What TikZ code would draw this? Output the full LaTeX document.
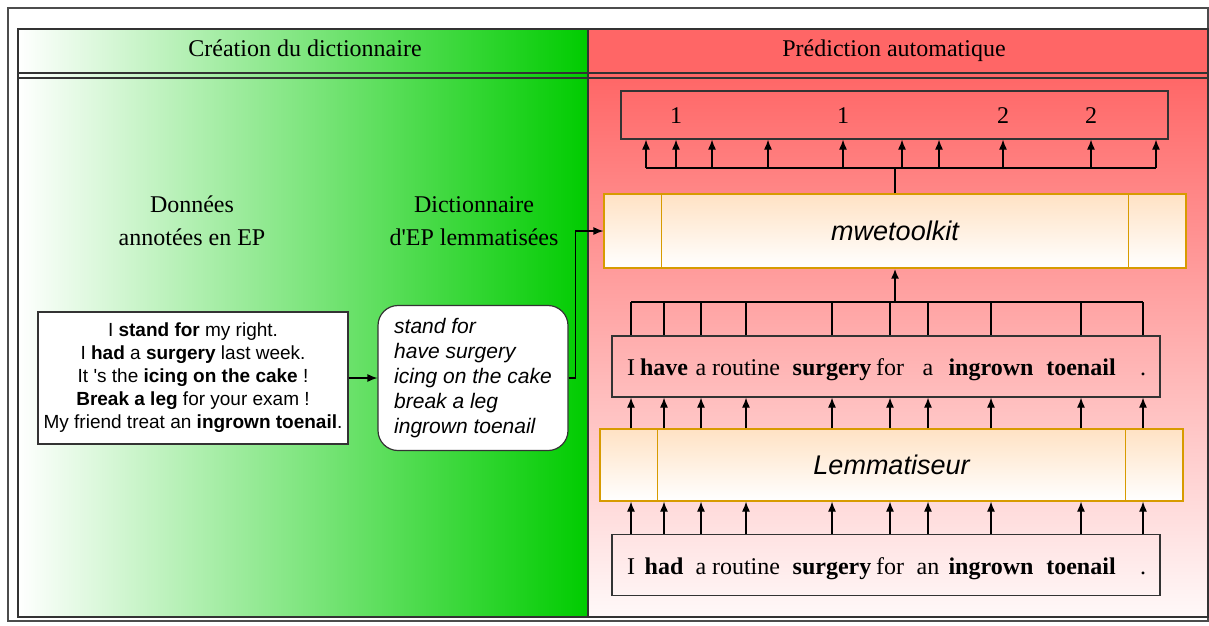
\documentclass[tikz,border=0pt]{standalone}
\usepackage{fontspec}
\setmainfont{Liberation Serif}
\setsansfont{Liberation Sans}
\usepackage{tikz}
\usetikzlibrary{positioning}
\usetikzlibrary{arrows.meta}
\tikzset{>={Latex[length=10pt,width=8pt]}}
\definecolor{vert}{HTML}{00CC00}
\definecolor{rouge}{HTML}{FF6666}
\definecolor{orangefill}{HTML}{FFE2C4}
\definecolor{orangedraw}{HTML}{D79B00}
\definecolor{trait}{HTML}{333333}
\newcommand{\fsz}[2]{\fontsize{#1}{#2}\selectfont}

\begin{document}
\begin{tikzpicture}[x=1pt, y=-1pt, line width=1.2pt,
    boite/.style={draw=trait, minimum width=548pt, minimum height=61pt},
    outil/.style={draw=orangedraw, top color=orangefill, bottom color=white, minimum width=582pt, minimum height=74pt, font=\sffamily\itshape\fsz{27}{32}},
    mot/.style={font=\fsz{24}{28}, inner sep=0pt, anchor=base}]
    \useasboundingbox (0,0) rectangle (1209,625);
    \draw[black!70] (8,8) rectangle (1208,621);
    \shade[left color=white, right color=vert] (18,29) rectangle (588,617);
    \fill[rouge] (588,29) rectangle (1208,73);
    \shade[top color=rouge, bottom color=rouge!4] (588,73) rectangle (1208,617);
    \draw[trait] (18,29) rectangle (588,617);
    \draw[trait] (588,29) rectangle (1208,617);
    \draw[trait] (18,73) -- (1208,73);
    \draw[trait] (18,78) -- (1208,78);
    \node[mot] (titrecrea) at (305,56) {Création du dictionnaire};
    \node[mot] (titrepred) at (894,56) {Prédiction automatique};
    \node[align=center, font=\fsz{24}{33}] (donnees) at (192,221) {Données\\annotées en EP};
    \node[align=center, font=\fsz{24}{33}] (dico) at (474,221) {Dictionnaire\\d\textquotesingle EP lemmatisées};

    \node[draw=trait, fill=white, align=center, font=\sffamily\fsz{19}{23}, minimum width=310pt, minimum height=132pt] (corpus) at (193,378)
        {I \textbf{stand for} my right.\\
         I \textbf{had} a \textbf{surgery} last week.\\
         It \textquotesingle s the \textbf{icing on the cake} !\\
         \textbf{Break a leg} for your exam !\\
         My friend treat an \textbf{ingrown toenail}.};
    \node[draw=trait, fill=white, rounded corners=20pt, align=left, font=\sffamily\itshape\fsz{21}{25}, minimum width=190pt, minimum height=145pt] (lexique) at (473,378)
        {stand for\\have surgery\\icing on the cake\\break a leg\\ingrown toenail};

    \node[outil] (mwe) at (895,231) {mwetoolkit};
    \draw[orangedraw] ([xshift=58pt]mwe.north west) -- ([xshift=58pt]mwe.south west);
    \draw[orangedraw] ([xshift=-58pt]mwe.north east) -- ([xshift=-58pt]mwe.south east);
    \node[outil, minimum width=583pt, minimum height=72pt] (lemma) at (891.5,465) {Lemmatiseur};
    \draw[orangedraw] ([xshift=58pt]lemma.north west) -- ([xshift=58pt]lemma.south west);
    \draw[orangedraw] ([xshift=-58pt]lemma.north east) -- ([xshift=-58pt]lemma.south east);

    \node[boite, minimum width=547pt, minimum height=48pt] (etiq) at (894.5,115) {};
    \node[boite] (lemmes) at (886,366.5) {};
    \node[boite] (jetons) at (886,565) {};

    \foreach \x/\m [count=\i] in {646/{}, 676/1, 712/{}, 768/{}, 843/1, 902/{}, 939/{}, 1003/2, 1091/2, 1156/{}}
        \node[mot] (t\i) at (\x,123) {\m};
    \foreach \x/\m [count=\i] in {631/I, 664/\textbf{have}, 701/a, 746/routine, 832/\textbf{surgery}, 890/for, 928/a, 991/\textbf{ingrown}, 1081/\textbf{toenail}, 1143/.}
        \node[mot] (l\i) at (\x,375) {\m};
    \foreach \x/\m [count=\i] in {631/I, 664/\textbf{had}, 701/a, 746/routine, 832/\textbf{surgery}, 890/for, 928/an, 991/\textbf{ingrown}, 1081/\textbf{toenail}, 1143/.}
        \node[mot] (w\i) at (\x,574) {\m};

    \draw[->] (corpus) -- (lexique);
    \draw[->] (lexique.east) -- ++(7,0) |- (mwe.west);

    \coordinate (bushaut) at (895,168);
    \draw[line width=2pt] (mwe.north) -- (bushaut);
    \draw (t1 |- bushaut) -- (t10 |- bushaut);
    \foreach \i in {1,...,10}
        \draw[->] (t\i |- bushaut) -- (t\i |- etiq.south);

    \coordinate (busmilieu) at (895,302);
    \draw (l1 |- busmilieu) -- (l10 |- busmilieu);
    \foreach \i in {1,...,10}
        \draw (l\i |- lemmes.north) -- (l\i |- busmilieu);
    \draw[->, line width=2pt] (busmilieu) -- (mwe.south);

    \foreach \i in {1,...,10} {
        \draw[->] (l\i |- lemma.north) -- (l\i |- lemmes.south);
        \draw[->] (w\i |- jetons.north) -- (w\i |- lemma.south);
    }
\end{tikzpicture}
\end{document}
